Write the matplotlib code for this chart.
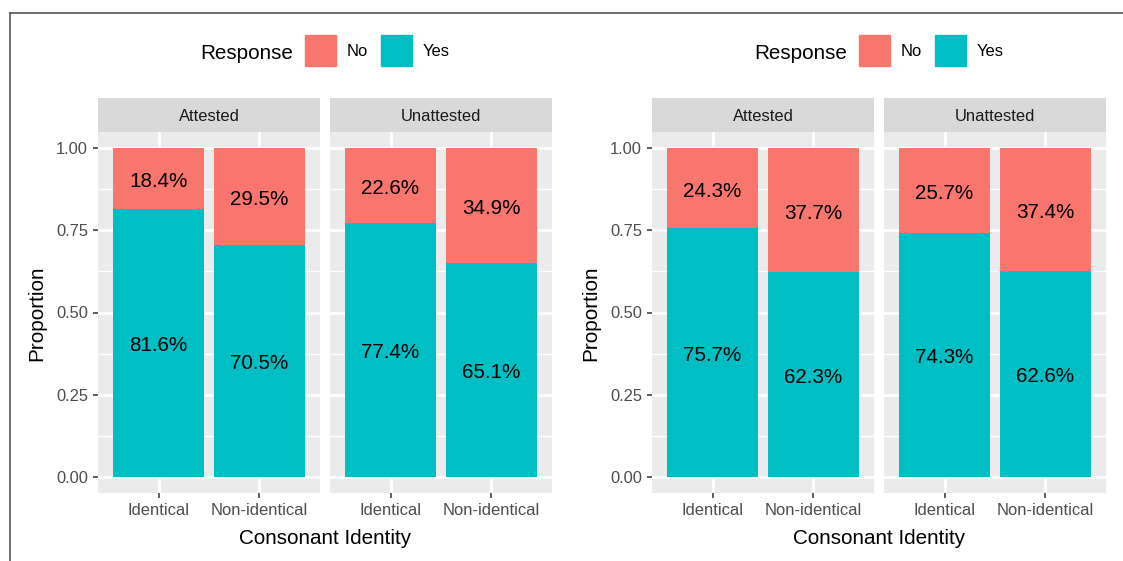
import matplotlib
matplotlib.use("Agg")
import matplotlib.pyplot as plt
from matplotlib.patches import Rectangle
from matplotlib.lines import Line2D
from matplotlib.transforms import offset_copy

plt.rcParams['font.family'] = ['Liberation Sans', 'DejaVu Sans']

# response proportions (%) per facet, left and right plots
categories = ["Identical", "Non-identical"]
facets = ["Attested", "Unattested"]

left_attested_yes = [81.6, 70.5]
left_attested_no = [18.4, 29.5]
left_unattested_yes = [77.4, 65.1]
left_unattested_no = [22.6, 34.9]

right_attested_yes = [75.7, 62.3]
right_attested_no = [24.3, 37.7]
right_unattested_yes = [74.3, 62.6]
right_unattested_no = [25.7, 37.4]

COL_NO = "#F8766D"
COL_YES = "#00BFC4"
W, H = 1123, 561
BIG = 14.9
SMALL = 11.9

fig = plt.figure(figsize=(W / 100, H / 100), dpi=100)


def px_axes(x0, y0, x1, y1):
    return fig.add_axes([x0 / W, 1 - y1 / H, (x1 - x0) / W, (y1 - y0) / H])


def draw_panel(x0, x1, facet, yes, no, first):
    ax = px_axes(x0, 132, x1, 493)
    ax.set_facecolor("#EBEBEB")
    ax.set_xlim(0.4, 2.6)
    ax.set_ylim(-0.05, 1.05)
    for s in ax.spines.values():
        s.set_visible(False)
    ax.set_axisbelow(True)
    ax.set_yticks([0, 0.25, 0.5, 0.75, 1.0])
    ax.set_yticks([0.125, 0.375, 0.625, 0.875], minor=True)
    ax.set_xticks([1, 2])
    ax.set_xticklabels(categories, fontsize=SMALL, color="#4D4D4D")
    ax.grid(which="major", color="white", linewidth=1.95)
    ax.grid(which="minor", axis="y", color="white", linewidth=0.97)
    ax.tick_params(which="minor", length=0)
    ax.tick_params(which="major", length=3.7, width=1.1, color="#333333", pad=3.5)
    if first:
        ax.set_yticklabels(["0.00", "0.25", "0.50", "0.75", "1.00"],
                           fontsize=SMALL, color="#4D4D4D")
    else:
        ax.tick_params(axis="y", length=0, labelleft=False)

    xs = [1, 2]
    y = [v / 100 for v in yes]
    n = [v / 100 for v in no]
    ax.bar(xs, y, width=0.9, color=COL_YES, zorder=2)
    ax.bar(xs, n, width=0.9, bottom=y, color=COL_NO, zorder=2)
    tr = offset_copy(ax.transData, fig=fig, y=-3, units="dots")
    for x, a, b, ya, nb in zip(xs, yes, no, y, n):
        ax.text(x, ya / 2, f"{a:.1f}%", ha="center", va="center",
                fontsize=BIG, zorder=3, transform=tr)
        ax.text(x, ya + nb / 2, f"{b:.1f}%", ha="center", va="center",
                fontsize=BIG, zorder=3, transform=tr)

    sax = px_axes(x0, 98, x1, 132)
    sax.set_facecolor("#D9D9D9")
    sax.set_xticks([])
    sax.set_yticks([])
    for s in sax.spines.values():
        s.set_visible(False)
    sax.text(0.5, 0.47, facet, ha="center", va="center", fontsize=SMALL,
             color="#1A1A1A", transform=sax.transAxes)


def draw_plot(dx, att_yes, att_no, una_yes, una_no):
    draw_panel(98 + dx, 320 + dx, facets[0], att_yes, att_no, True)
    draw_panel(330 + dx, 552 + dx, facets[1], una_yes, una_no, False)

    # legend on top
    fig.text((200 + dx) / W, 1 - 54 / H, "Response", fontsize=BIG, va="center")
    for px, col, lab in [(305, COL_NO, "No"), (381, COL_YES, "Yes")]:
        fig.add_artist(Rectangle(((px + dx) / W, 1 - 66 / H), 31 / W, 31 / H,
                                 transform=fig.transFigure, color=col))
        fig.text((px + 42 + dx) / W, 1 - 52 / H, lab, fontsize=SMALL, va="center")

    fig.text((37 + dx) / W, 1 - 313 / H, "Proportion", rotation=90,
             fontsize=BIG, ha="center", va="center")
    fig.text((325 + dx) / W, 1 - 538 / H, "Consonant Identity",
             fontsize=BIG, ha="center", va="center")


draw_plot(0, left_attested_yes, left_attested_no, left_unattested_yes, left_unattested_no)
draw_plot(554, right_attested_yes, right_attested_no, right_unattested_yes, right_unattested_no)

# frame lines along the top and left edge
fig.add_artist(Line2D([9.5 / W, 1], [1 - 13 / H, 1 - 13 / H], color="#555555", linewidth=1.2))
fig.add_artist(Line2D([9.5 / W, 9.5 / W], [0, 1 - 13 / H], color="#555555", linewidth=1.2))

fig.savefig("out.png", dpi=100)
